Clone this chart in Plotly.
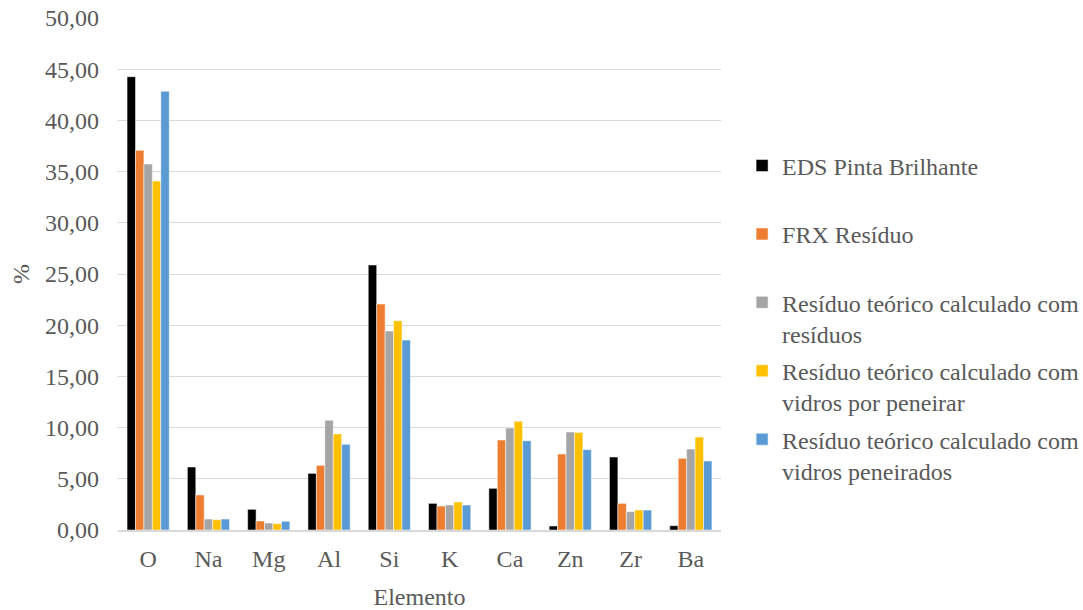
import plotly.graph_objects as go

# Elements on the category axis
elementos = ["O", "Na", "Mg", "Al", "Si", "K", "Ca", "Zn", "Zr", "Ba"]

# Composition (%) per series
eds_pinta = [44.27, 6.15, 2.02, 5.53, 25.88, 2.60, 4.07, 0.39, 7.13, 0.42]
frx_residuo = [37.08, 3.42, 0.88, 6.31, 22.07, 2.34, 8.79, 7.42, 2.60, 7.00]
teorico_residuos = [35.74, 1.07, 0.68, 10.71, 19.43, 2.44, 9.96, 9.57, 1.79, 7.91]
teorico_por_peneirar = [34.08, 1.00, 0.62, 9.38, 20.44, 2.73, 10.61, 9.51, 1.95, 9.08]
teorico_peneirados = [42.84, 1.07, 0.85, 8.37, 18.55, 2.44, 8.72, 7.85, 1.95, 6.74]

series = [
    ("EDS Pinta Brilhante<br> ", eds_pinta, "#000000"),
    ("FRX Resíduo<br> ", frx_residuo, "#ED7D31"),
    ("Resíduo teórico calculado com<br>resíduos", teorico_residuos, "#A5A5A5"),
    ("Resíduo teórico calculado com<br>vidros por peneirar", teorico_por_peneirar, "#FFC000"),
    ("Resíduo teórico calculado com<br>vidros peneirados", teorico_peneirados, "#5B9BD5"),
]

FONT = "Liberation Serif"
TXT = "#595959"

fig = go.Figure()
for i, (nome, vals, cor) in enumerate(series):
    fig.add_trace(go.Bar(
        x=elementos, y=vals, name=nome,
        marker=dict(color=cor, line=dict(color="white", width=0.5)),
        legendgroup=f"g{i}",
    ))

fig.update_layout(
    width=1083, height=610,
    margin=dict(l=118, r=362, t=18, b=80, autoexpand=False),
    paper_bgcolor="white", plot_bgcolor="white",
    separators=",.",
    font=dict(family=FONT, size=24, color=TXT),
    barmode="group", bargap=0.3, bargroupgap=0,
    legend=dict(
        x=1.035, xanchor="left", y=0.755, yanchor="top",
        valign="top", traceorder="grouped", tracegroupgap=3,
        font=dict(family=FONT, size=24, color=TXT),
        bgcolor="rgba(0,0,0,0)",
    ),
    xaxis=dict(
        title=dict(text="Elemento", font=dict(family=FONT, size=24, color=TXT), standoff=18),
        showline=True, linecolor="#D9D9D9", linewidth=1.5,
        showgrid=False, ticks="", ticklabelstandoff=6,
        tickfont=dict(family=FONT, size=24, color=TXT),
    ),
    yaxis=dict(
        title=dict(text="%", font=dict(family=FONT, size=24, color=TXT), standoff=8),
        range=[0, 50], dtick=5, tickformat=".2f",
        showgrid=True, gridcolor="#D9D9D9", gridwidth=1,
        zeroline=False, showline=False, ticks="", ticklabelstandoff=18,
        tickfont=dict(family=FONT, size=24, color=TXT),
    ),
)

fig.write_html("out.html")
